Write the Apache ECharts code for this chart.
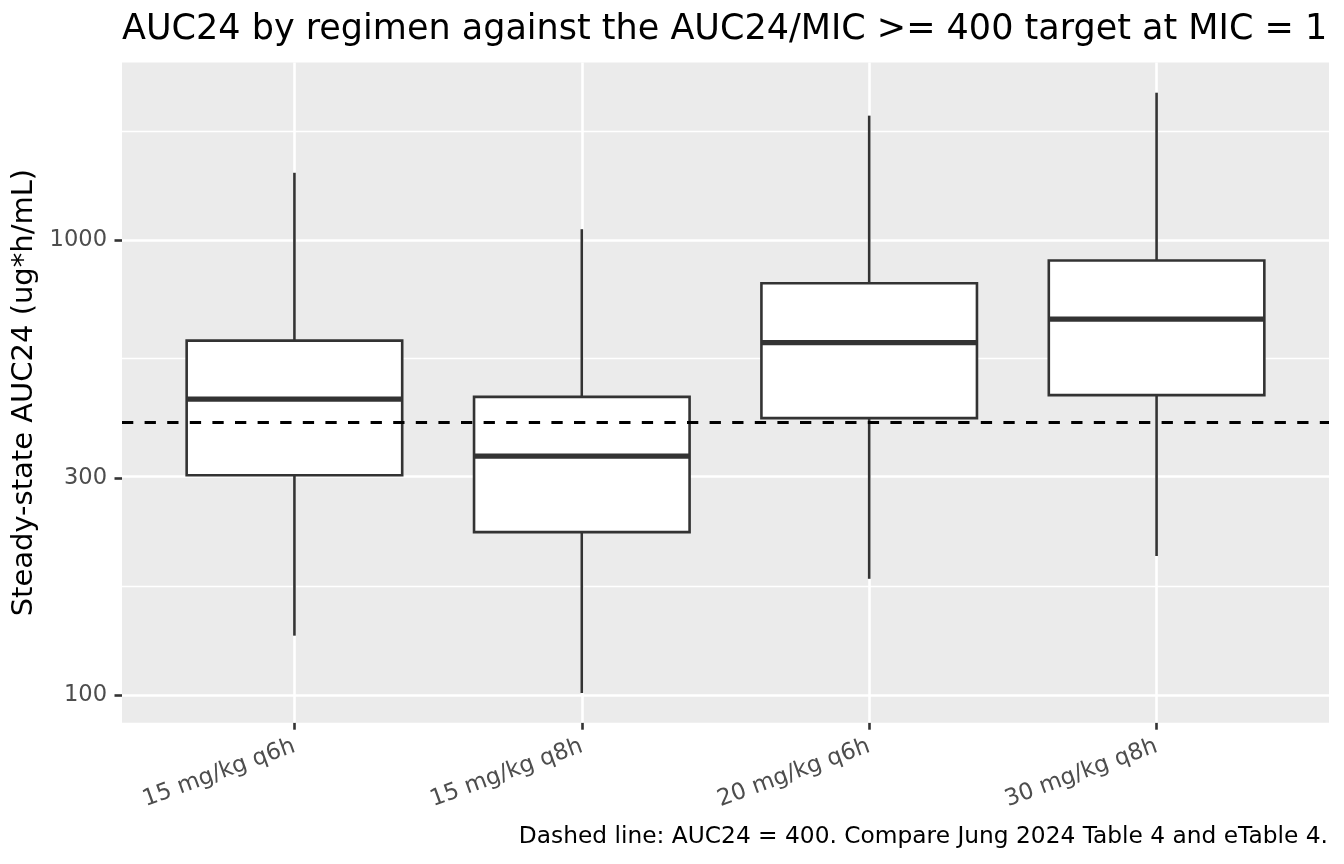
<!DOCTYPE html>
<html>
<head>
<meta charset="UTF-8">
<title>AUC24 by regimen</title>
<script src="https://cdn.jsdelivr.net/npm/echarts@6/dist/echarts.min.js"></script>
<style>
  html, body { margin: 0; padding: 0; background: #fff; }
  #chart { width: 1344px; height: 864px; }
</style>
</head>
<body>
<div id="chart"></div>
<script>
// values (ug*h/mL)
var regimens = ['15 mg/kg q6h', '15 mg/kg q8h', '20 mg/kg q6h', '30 mg/kg q8h'];
var whiskerLow = [135, 101, 180, 202];
var lowerQuartile = [304, 228, 406, 456];
var medians = [447, 335, 595, 670];
var upperQuartile = [601, 452, 803, 901];
var whiskerHigh = [1405, 1056, 1876, 2107];

var targetAuc = 400;
var yMajorBreaks = [100, 300, 1000];
var yMinorBreaks = [173.2, 547.7, 1732];
var yLimits = [86.9, 2455];

var lg = Math.log10;
var ink = '#333333';
var font = 'DejaVu Sans';

// rows: [position, min, q1, median, q3, max] in log10 space
var boxRows = regimens.map(function (r, i) {
  return [i + 1, lg(whiskerLow[i]), lg(lowerQuartile[i]), lg(medians[i]),
          lg(upperQuartile[i]), lg(whiskerHigh[i])];
});

function gridLine(axis, v, w) {
  var d = {};
  d[axis] = v;
  d.lineStyle = { color: '#ffffff', width: w, type: 'solid' };
  return d;
}

var gridLines = [];
yMinorBreaks.forEach(function (v) { gridLines.push(gridLine('yAxis', lg(v), 1.3)); });
yMajorBreaks.forEach(function (v) { gridLines.push(gridLine('yAxis', lg(v), 2.6)); });
regimens.forEach(function (r, i) { gridLines.push(gridLine('xAxis', i + 1, 2.6)); });

var chart = echarts.init(document.getElementById('chart'), null, { renderer: 'canvas' });

chart.setOption({
  animation: false,
  backgroundColor: '#ffffff',
  textStyle: { fontFamily: font },
  title: [{
    text: 'AUC24 by regimen against the AUC24/MIC >= 400 target at MIC = 1',
    left: 122,
    top: 12,
    padding: 0,
    textStyle: { fontFamily: font, fontSize: 35, fontWeight: 'normal', color: '#000000' }
  }, {
    text: 'Dashed line: AUC24 = 400. Compare Jung 2024 Table 4 and eTable 4.',
    right: 16,
    top: 825,
    padding: 0,
    textStyle: { fontFamily: font, fontSize: 23.3, fontWeight: 'normal', color: '#000000' }
  }],
  grid: {
    left: 122, top: 62.5, width: 1207, height: 660.2,
    show: true, backgroundColor: '#EBEBEB', borderWidth: 0
  },
  xAxis: {
    type: 'value',
    min: 0.4,
    max: 4.6,
    axisLine: { show: false },
    splitLine: { show: false },
    axisTick: {
      show: true, length: 7, customValues: [1, 2, 3, 4],
      lineStyle: { color: ink, width: 2.6 }
    },
    axisLabel: {
      customValues: [1, 2, 3, 4],
      rotate: 20,
      margin: 23,
      fontFamily: font,
      fontSize: 23,
      color: '#4D4D4D',
      formatter: function (v) { return regimens[Math.round(v) - 1]; }
    }
  },
  yAxis: {
    type: 'value',
    min: lg(yLimits[0]),
    max: lg(yLimits[1]),
    name: 'Steady-state AUC24 (ug*h/mL)',
    nameLocation: 'middle',
    nameRotate: 90,
    nameGap: 77,
    nameTextStyle: { fontFamily: font, fontSize: 29, color: '#000000' },
    axisLine: { show: false },
    splitLine: { show: false },
    axisTick: {
      show: true, length: 7.5, customValues: yMajorBreaks.map(lg),
      lineStyle: { color: ink, width: 2.6 }
    },
    axisLabel: {
      customValues: yMajorBreaks.map(lg),
      margin: 15,
      fontFamily: font,
      fontSize: 22.6,
      color: '#4D4D4D',
      formatter: function (v) { return String(Math.round(Math.pow(10, v))); }
    }
  },
  series: [{
    // panel grid lines, kept under the boxes
    type: 'line',
    data: [],
    silent: true,
    markLine: {
      silent: true,
      z: 1,
      symbol: ['none', 'none'],
      label: { show: false },
      data: gridLines
    }
  }, {
    type: 'custom',
    z: 3,
    data: boxRows,
    encode: { x: 0, y: [1, 2, 3, 4, 5] },
    renderItem: function (params, api) {
      var x = api.value(0);
      var pMin = api.coord([x, api.value(1)]);
      var pQ1 = api.coord([x, api.value(2)]);
      var pMed = api.coord([x, api.value(3)]);
      var pQ3 = api.coord([x, api.value(4)]);
      var pMax = api.coord([x, api.value(5)]);
      var half = api.size([0.75, 0])[0] / 2;
      var edge = { stroke: ink, lineWidth: 2.6 };
      return {
        type: 'group',
        children: [
          { type: 'line', shape: { x1: pMin[0], y1: pMin[1], x2: pQ1[0], y2: pQ1[1] }, style: edge },
          { type: 'line', shape: { x1: pQ3[0], y1: pQ3[1], x2: pMax[0], y2: pMax[1] }, style: edge },
          { type: 'rect', shape: { x: pQ3[0] - half, y: pQ3[1], width: half * 2, height: pQ1[1] - pQ3[1] },
            style: { fill: '#ffffff', stroke: ink, lineWidth: 2.6 } },
          { type: 'line', shape: { x1: pMed[0] - half, y1: pMed[1], x2: pMed[0] + half, y2: pMed[1] },
            style: { stroke: ink, lineWidth: 5.2 } }
        ]
      };
    },
    markLine: {
      silent: true,
      z: 5,
      symbol: ['none', 'none'],
      label: { show: false },
      lineStyle: { color: '#000000', width: 3.2, type: [11.3, 11.3] },
      data: [{ yAxis: lg(targetAuc) }]
    }
  }]
});
</script>
</body>
</html>
